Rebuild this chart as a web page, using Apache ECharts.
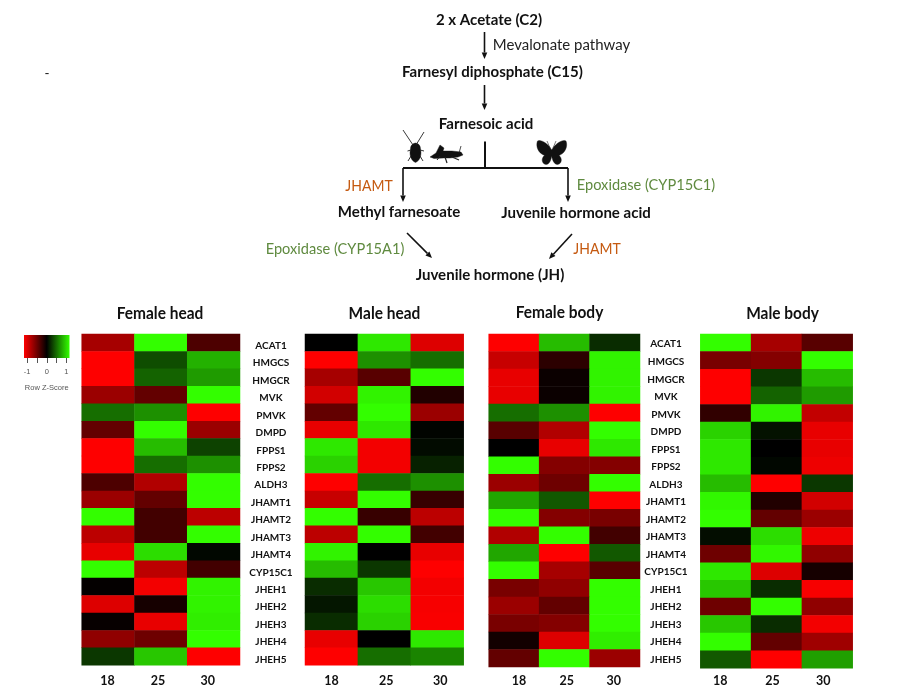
<!DOCTYPE html>
<html><head><meta charset="utf-8">
<style>html,body{margin:0;padding:0;background:#fff}#c{width:914px;height:687px}</style>
<script src="https://cdn.jsdelivr.net/npm/echarts@6/dist/echarts.min.js"></script>
</head><body><div id="c"></div>
<script>
const genes = ['ACAT1','HMGCS','HMGCR','MVK','PMVK','DMPD','FPPS1','FPPS2','ALDH3','JHAMT1','JHAMT2','JHAMT3','JHAMT4','CYP15C1','JHEH1','JHEH2','JHEH3','JHEH4','JHEH5'];
const temperatures = ['18','25','30'];
const panelTitles = ['Female head','Male head','Female body','Male body'];
const femaleHead = [[-0.75,1.15,-0.35],[-1.15,0.35,0.8],[-1.15,0.45,0.7],[-0.7,-0.45,1.15],[0.5,0.65,-1.15],[-0.45,1.15,-0.7],[-1.15,0.85,0.3],[-1.15,0.5,0.65],[-0.35,-0.8,1.15],[-0.7,-0.45,1.15],[1.15,-0.3,-0.85],[-0.85,-0.3,1.15],[-1.05,1.0,0.03],[1.15,-0.85,-0.3],[-0.02,-1.1,1.1],[-1.0,-0.1,1.1],[-0.03,-1.05,1.08],[-0.65,-0.5,1.15],[0.25,0.9,-1.15]];
const maleHead = [[0,1.05,-1.0],[-1.15,0.65,0.5],[-0.75,-0.4,1.15],[-0.95,1.1,-0.15],[-0.45,1.15,-0.7],[-1.05,1.05,0.02],[1.05,-1.1,0.05],[0.95,-1.1,0.15],[-1.15,0.5,0.65],[-0.9,1.15,-0.25],[1.15,-0.25,-0.85],[-0.85,1.15,-0.3],[1.1,0,-1.05],[0.85,0.25,-1.15],[0.2,0.9,-1.1],[0.1,1.0,-1.12],[0.2,0.95,-1.13],[-1.05,0,1.05],[-1.15,0.5,0.6]];
const femaleBody = [[-1.15,0.85,0.2],[-0.9,-0.2,1.1],[-1.05,-0.05,1.1],[-1.05,-0.05,1.1],[0.5,0.65,-1.15],[-0.4,-0.8,1.15],[0,-1.05,1.05],[1.15,-0.6,-0.6],[-0.7,-0.5,1.15],[0.75,0.4,-1.15],[1.15,-0.6,-0.55],[-0.8,1.15,-0.3],[0.75,-1.15,0.4],[1.15,-0.75,-0.4],[-0.55,-0.65,1.15],[-0.7,-0.45,1.15],[-0.55,-0.6,1.15],[-0.08,-1.0,1.08],[-0.45,1.15,-0.7]];
const maleBody = [[1.15,-0.75,-0.4],[-0.55,-0.6,1.15],[-1.15,0.25,0.85],[-1.15,0.45,0.7],[-0.22,1.1,-0.88],[0.95,0.08,-1.05],[1.05,0,-1.05],[1.05,0.03,-1.08],[0.85,-1.15,0.25],[1.12,-0.15,-0.95],[1.15,-0.45,-0.7],[0.06,1.0,-1.08],[-0.5,1.12,-0.65],[1.05,-1.0,-0.1],[0.9,0.2,-1.12],[-0.5,1.15,-0.65],[0.9,0.2,-1.1],[1.15,-0.45,-0.72],[0.4,-1.15,0.72]];
const panelValues = [femaleHead, maleHead, femaleBody, maleBody];
const zLimit = 1.155;
const zTicks = [-1,-0.5,0,0.5,1];
const zLabels = [-1,0,1];

const RED='#ff0000', BLACK='#000000', GREEN='#33ff00', ORANGE='#c55a11', OLIVE='#5f8a3f';
const FONT='Lato';
const layout = [
  {l:81.7,r:240,b:666,titleX:160,titleY:313.5,labelMargin:31,labelPad:6,shift:[-0.7,-2.8,-5.9]},
  {l:305,r:463.7,b:666,titleX:384.5,titleY:313.5,labelMargin:0,labelPad:0,shift:[0,2,3]},
  {l:488.7,r:640,b:667.7,titleX:559.5,titleY:312.5,labelMargin:26,labelPad:3,shift:[5,2.5,-1]},
  {l:700.3,r:852.7,b:669,titleX:782.5,titleY:313.5,labelMargin:0,labelPad:0,shift:[-5.5,-4,-4]}
];
const TOP=334;
const grids=[],xAxes=[],yAxes=[],series=[],graphics=[];
layout.forEach((p,i)=>{
  grids.push({left:p.l,top:TOP,width:p.r-p.l,height:p.b-TOP,containLabel:false});
  const rich={};
  p.shift.forEach((d,k)=>{rich['s'+k]={fontFamily:FONT,fontWeight:'bold',fontSize:12.5,color:'#111',padding:d>=0?[0,0,0,2*d]:[0,-2*d,0,0]};});
  xAxes.push({type:'category',gridIndex:i,data:temperatures,axisLine:{show:false},axisTick:{show:false},splitLine:{show:false},
    axisLabel:{margin:680.7-6-p.b,formatter:(v,k)=>`{s${k}|${v}}`,rich}});
  yAxes.push({type:'category',gridIndex:i,data:genes,inverse:true,position:'right',axisLine:{show:false},axisTick:{show:false},splitLine:{show:false},
    axisLabel:{show:p.labelMargin>0,margin:p.labelMargin,align:'center',verticalAlign:'middle',formatter:v=>`{g|${v}}`,
      rich:{g:{padding:[p.labelPad,0,0,0],fontFamily:FONT,fontWeight:'bold',fontSize:10,color:'#111'}}}});
  const cells=[];
  panelValues[i].forEach((row,y)=>row.forEach((v,x)=>cells.push([x,y,v])));
  series.push({type:'heatmap',xAxisIndex:i,yAxisIndex:i,data:cells,progressive:0,emphasis:{disabled:true},itemStyle:{borderWidth:0},silent:true});
  graphics.push({type:'text',x:p.titleX,y:p.titleY,scaleX:0.91,style:{text:panelTitles[i],font:`bold 17px ${FONT}`,fill:'#111',align:'center',verticalAlign:'middle'}});
});
// colour key
grids.push({show:true,left:24,top:335,width:45.5,height:23,borderWidth:0,
  backgroundColor:new echarts.graphic.LinearGradient(0,0,1,0,[{offset:0,color:RED},{offset:0.5,color:BLACK},{offset:1,color:GREEN}])});
xAxes.push({type:'value',gridIndex:4,min:-zLimit,max:zLimit,splitLine:{show:false},axisLine:{show:false},
  axisTick:{customValues:zTicks,length:5,lineStyle:{color:'#555',width:1}},
  axisLabel:{customValues:zLabels,margin:10,fontFamily:'Liberation Sans',fontSize:7.5,color:'#555',formatter:v=>String(v)},
  name:'Row Z-Score',nameLocation:'middle',nameGap:26,nameTextStyle:{fontFamily:'Liberation Sans',fontSize:7.5,color:'#555'}});
yAxes.push({type:'value',gridIndex:4,show:false});

// pathway
function txt(t,cx,cy,opt={}){graphics.push({type:'text',x:cx,y:cy,scaleX:opt.bold?0.94:0.96,style:{text:t,font:`${opt.bold?'bold ':''}${opt.size||14}px ${FONT}`,fill:opt.color||'#111',align:'center',verticalAlign:'middle'}});}
function arrow(x1,y1,x2,y2,w=1.6){
  const a=Math.atan2(y2-y1,x2-x1),h=6.5,s=2.8,ux=Math.cos(a),uy=Math.sin(a);
  const bx=x2-ux*h,by=y2-uy*h;
  graphics.push({type:'line',shape:{x1,y1,x2:bx,y2:by},style:{stroke:'#111',lineWidth:w}});
  graphics.push({type:'polygon',shape:{points:[[x2,y2],[bx-uy*s,by+ux*s],[bx+uy*s,by-ux*s]]},style:{fill:'#111'}});
}
function seg(x1,y1,x2,y2,w){graphics.push({type:'line',shape:{x1,y1,x2,y2},style:{stroke:'#111',lineWidth:w,lineCap:'butt'}});}
txt('2 x Acetate (C2)',489,20,{bold:1,size:16});
txt('Mevalonate pathway',561.5,44.5,{size:15.6,color:'#222'});
txt('Farnesyl diphosphate (C15)',492.5,71.5,{bold:1,size:16});
txt('Farnesoic acid',486,124,{bold:1,size:16});
txt('JHAMT',369,186,{size:14.6,color:ORANGE});
txt('Epoxidase (CYP15C1)',646,185,{size:15.2,color:OLIVE});
txt('Methyl farnesoate',399,212,{bold:1,size:16});
txt('Juvenile hormone acid',576,213,{bold:1,size:16});
txt('Epoxidase (CYP15A1)',335,249,{size:15.2,color:OLIVE});
txt('JHAMT',597,249.5,{size:14.6,color:ORANGE});
txt('Juvenile hormone (JH)',490,275,{bold:1,size:16});
txt('-',47,73,{size:14});
arrow(484.5,32,484.5,59);
arrow(484.5,85,484.5,110);
seg(485,141.5,485,168,2);
seg(403,168,568,168,2.2);
arrow(403,168,403,202);
arrow(568,168,568,202);
arrow(407,233,432,258);
arrow(572,234,549,259);
// silhouettes, registered as custom shapes because graphic has no plain path element
const silhouettes={
  roach:'M415.5 143 C419 143.5 420.5 146 420.5 149 C421.8 154 420.5 160.5 415.5 162.5 C410.5 160.5 409.2 154 410.5 149 C410.5 146 412 143.5 415.5 143 Z',
  hopper:'M430 157 L436 153 L440 145 L444 148 L443 151 L452 151 L461 152 L463 155 L458 157 L450 158 L444 158 L434 158.5 Z',
  butterfly:'M551.7 150 C548 143 540 139 537.5 141 C535.5 146 538 153 544.5 155.5 C541 158 541.5 164 546 164.5 C549.5 164.5 551 160 551.7 156 C552.4 160 554 164.5 557.5 164.5 C562 164 562.5 158 559 155.5 C565.5 153 568 146 566 141 C563.5 139 555.5 143 551.7 150 Z'
};
Object.keys(silhouettes).forEach(k=>{
  echarts.graphic.registerShape(k,echarts.graphic.extendPath(silhouettes[k]));
  graphics.push({type:k,style:{fill:'#111',stroke:'#111',lineWidth:0.4}});
});
const ln=(x1,y1,x2,y2,w=0.9)=>graphics.push({type:'line',shape:{x1,y1,x2,y2},style:{stroke:'#222',lineWidth:w}});
ln(403,130,413,145);ln(424,132,416,145);ln(411,150,407.5,151);ln(420,150,424,151);ln(411,156,408,161);ln(420,156,423,161);
ln(445,157,447,163,1.2);ln(452,157,459,160,1.2);ln(459,153,461,146,0.8);ln(440,156,437,160,1);
ln(550,148,547,141,0.6);ln(553,148,556,141,0.6);

const chart=echarts.init(document.getElementById('c'),null,{renderer:'canvas'});
chart.setOption({animation:false,backgroundColor:'#fff',tooltip:{show:false},
  grid:grids,xAxis:xAxes,yAxis:yAxes,series,graphic:{elements:graphics},
  visualMap:{show:false,type:'continuous',min:-zLimit,max:zLimit,seriesIndex:[0,1,2,3],inRange:{color:[RED,BLACK,GREEN]}}
});
</script></body></html>
